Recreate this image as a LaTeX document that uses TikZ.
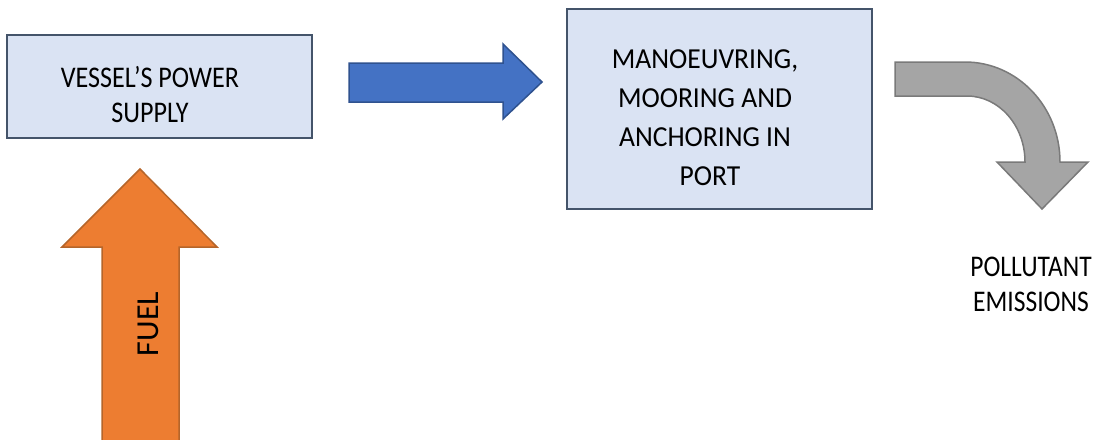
\documentclass[tikz,border=0pt]{standalone}
\usepackage{fontspec}
\setmainfont{Carlito}
\newfontfamily\supplyfont{Carlito}[FakeStretch=0.87]
\newfontfamily\portfont{Carlito}[FakeStretch=0.95]
\newfontfamily\emitfont{Carlito}[FakeStretch=0.85]
\definecolor{boxfill}{HTML}{DAE3F3}
\definecolor{boxline}{HTML}{44546A}
\definecolor{bluefill}{HTML}{4472C4}
\definecolor{blueline}{HTML}{2F528F}
\definecolor{orangefill}{HTML}{ED7D31}
\definecolor{orangeline}{HTML}{B5652A}
\definecolor{grayfill}{HTML}{A5A5A5}
\definecolor{grayline}{HTML}{7A7A7A}
\tikzset{
  stagebox/.style={draw=boxline, fill=boxfill, line width=2pt, rectangle, inner sep=0pt},
  blockarrow/.style={line width=1.5pt, line join=miter},
  caption/.style={inner sep=0pt, align=center, text=black},
}
\begin{document}
\begin{tikzpicture}[x=1pt, y=-1pt]
\useasboundingbox (0,0) rectangle (1097,439);

% process stages
\node[stagebox, minimum width=305pt, minimum height=103pt] (supply) at (159.5,86.5) {};
\node[stagebox, minimum width=305pt, minimum height=200pt] (port) at (719.5,109) {};

% captions are placed by the baseline of their last line
\node[caption, anchor=base, font=\supplyfont\fontsize{30}{35}\selectfont]
  (supplytext) at (150,122) {VESSEL’S POWER\hspace{21pt}\\SUPPLY};
\node[caption, anchor=base, font=\portfont\fontsize{29}{39}\selectfont]
  (porttext) at (705,185) {MANOEUVRING,\\MOORING AND\\ANCHORING IN\\\hspace{10pt}PORT};

% fuel feeding the power supply
\draw[blockarrow, draw=orangeline, fill=orangefill]
  (102,441) -- (102,247) -- (62,247) -- (140,169) -- (217,247) -- (179,247) -- (179,441);
\node[inner sep=0pt, anchor=base, rotate=90, font=\fontsize{32}{36}\selectfont]
  (fuel) at (158,324) {FUEL};

% power supply to port operations
\draw[blockarrow, draw=blueline, fill=bluefill]
  (349,63) -- (503,63) -- (503,44) -- (542,82) -- (503,119) -- (503,102) -- (349,102) -- cycle;

% resulting emissions
\draw[blockarrow, draw=grayline, fill=grayfill]
  (895,62) -- (965,62) arc[start angle=-90, end angle=0, x radius=95, y radius=100]
  -- (1088,162) -- (1042,209) -- (997,162) -- (1025,162)
  arc[start angle=0, end angle=-90, x radius=58, y radius=66]
  -- (895,96) -- cycle;
\node[caption, anchor=base, font=\emitfont\fontsize{30}{35}\selectfont]
  (emissions) at (1031,311) {POLLUTANT\\EMISSIONS};
\end{tikzpicture}
\end{document}
